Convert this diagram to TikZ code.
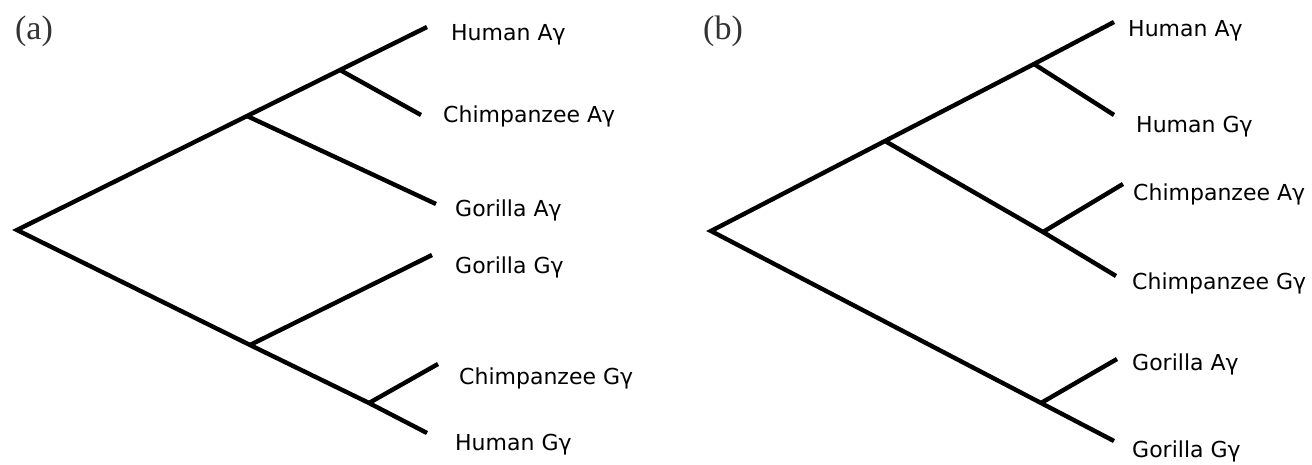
\documentclass[tikz,border=0pt]{standalone}
\usepackage{fontspec}
\newfontfamily\labfont{DejaVu Sans}
\newfontfamily\panfont{Liberation Serif}
\begin{document}
\begin{tikzpicture}[x=1pt,y=-1pt,
  branch/.style={line width=4.4pt,line join=miter,black},
  leaf/.style={anchor=base west,inner sep=0pt,font=\labfont\fontsize{22}{24}\selectfont},
  panel/.style={anchor=center,inner sep=0pt,font=\panfont\fontsize{34}{36}\selectfont,text=black!80}]
\useasboundingbox (0,0) rectangle (1312,464);
% ---------- tree (a) ----------
\coordinate (aR) at (17,230);
\coordinate (aA1) at (247,116);
\coordinate (aA2) at (340,70);
\coordinate (aHA) at (427,27);
\coordinate (aCA) at (421,115);
\coordinate (aGA) at (436,204);
\coordinate (aG1) at (250,345);
\coordinate (aG2) at (369,403);
\coordinate (aGG) at (432,255);
\coordinate (aCG) at (438,364);
\coordinate (aHG) at (427,433);
\draw[branch] (aHA) -- (aA2) -- (aA1) -- (aR) -- (aG1) -- (aG2) -- (aHG);
\draw[branch] (aA2) -- (aCA);
\draw[branch] (aA1) -- (aGA);
\draw[branch] (aG1) -- (aGG);
\draw[branch] (aG2) -- (aCG);
\node[panel] (pa) at (34,31) {(a)};
\node[leaf] (laHA) at (451,40) {Human Aγ};
\node[leaf] (laCA) at (443,122) {Chimpanzee Aγ};
\node[leaf] (laGA) at (455,216) {Gorilla Aγ};
\node[leaf] (laGG) at (455,273) {Gorilla Gγ};
\node[leaf] (laCG) at (459,384) {Chimpanzee Gγ};
\node[leaf] (laHG) at (455,450) {Human Gγ};
% ---------- tree (b) ----------
\coordinate (bR) at (711,231);
\coordinate (bB1) at (885,141);
\coordinate (bB2) at (1034,64);
\coordinate (bHA) at (1114,22);
\coordinate (bHG) at (1114,115);
\coordinate (bB3) at (1043,232);
\coordinate (bCA) at (1123,184);
\coordinate (bCG) at (1116,276);
\coordinate (bB4) at (1041,403);
\coordinate (bGA) at (1117,359);
\coordinate (bGG) at (1114,441);
\draw[branch] (bHA) -- (bB2) -- (bB1) -- (bR) -- (bB4) -- (bGG);
\draw[branch] (bB2) -- (bHG);
\draw[branch] (bB1) -- (bB3) -- (bCG);
\draw[branch] (bB3) -- (bCA);
\draw[branch] (bB4) -- (bGA);
\node[panel] (pb) at (723,31) {(b)};
\node[leaf] (lbHA) at (1128,36) {Human Aγ};
\node[leaf] (lbHG) at (1136,132) {Human Gγ};
\node[leaf] (lbCA) at (1133,200) {Chimpanzee Aγ};
\node[leaf] (lbCG) at (1132,289) {Chimpanzee Gγ};
\node[leaf] (lbGA) at (1132,370) {Gorilla Aγ};
\node[leaf] (lbGG) at (1132,457) {Gorilla Gγ};
\end{tikzpicture}
\end{document}
